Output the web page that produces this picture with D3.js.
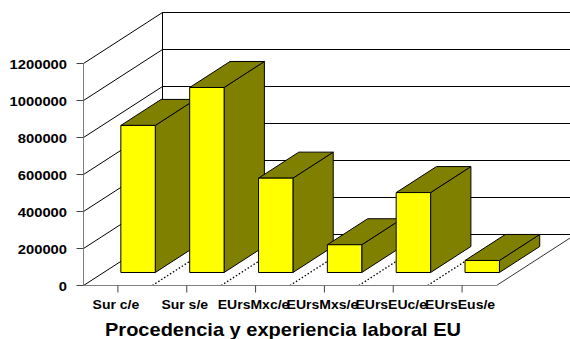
<!DOCTYPE html>
<html>
<head>
<meta charset="utf-8">
<script src="https://cdn.jsdelivr.net/npm/d3@7"></script>
<style>
  body { margin: 0; background: #fff; }
  text { font-family: "Liberation Sans", Arial, sans-serif; font-weight: bold; fill: #000; }
</style>
</head>
<body>
<div id="vis"></div>
<script>
var categories = ["Sur c/e", "Sur s/e", "EUrsMxc/e", "EUrsMxs/e", "EUrsEUc/e", "EUrsEus/e"];
var values = [795000, 1000000, 510000, 150000, 432000, 65000];
var yTicks = [0, 200000, 400000, 600000, 800000, 1000000, 1200000];
var title = "Procedencia y experiencia laboral EU";

var width = 570, height = 339;
var plot = {left: 83.5, right: 496.5, top: 63.5, bottom: 285.5};
var depth = {dx: 79, dy: -51};     // full floor depth in screen px
var barFront = 0.255, barBack = 0.765;

var svg = d3.select("#vis").append("svg")
    .attr("width", width)
    .attr("height", height);

var x = d3.scaleBand()
    .domain(categories)
    .range([plot.left, plot.right]);

var y = d3.scaleLinear()
    .domain([0, 1200000])
    .range([plot.bottom, plot.top]);

// project a point of the front plane back to depth z (0..1)
function p(px, py, z) {
  return [px + z * depth.dx, py + z * depth.dy];
}
function poly(pts) {
  return pts.map(function(d) { return d[0] + "," + d[1]; }).join(" ");
}

////////// walls //////////

var walls = svg.append("g").attr("class", "walls");

// back wall gridlines + left wall diagonals
yTicks.forEach(function(t) {
  var a = p(plot.left, y(t), 0), b = p(plot.left, y(t), 1);
  walls.append("line")
      .attr("x1", a[0]).attr("y1", a[1]).attr("x2", b[0]).attr("y2", b[1])
      .attr("stroke", "#000");
  walls.append("line")
      .attr("x1", b[0]).attr("y1", b[1]).attr("x2", plot.right + depth.dx).attr("y2", b[1])
      .attr("stroke", "#000");
});

var bl = p(plot.left, plot.top, 1), bb = p(plot.left, plot.bottom, 1);
walls.append("line")
    .attr("x1", bl[0]).attr("y1", bl[1]).attr("x2", bb[0]).attr("y2", bb[1])
    .attr("stroke", "#000");

// floor right edge
var fr = p(plot.right, plot.bottom, 1);
walls.append("line")
    .attr("x1", plot.right).attr("y1", plot.bottom).attr("x2", fr[0]).attr("y2", fr[1])
    .attr("stroke", "#333");

// dotted category dividers on the floor
walls.selectAll(".divider")
    .data(categories.slice(1))
    .enter()
    .append("line")
    .attr("class", "divider")
    .attr("x1", function(d) { return x(d); })
    .attr("y1", plot.bottom)
    .attr("x2", function(d) { return p(x(d), plot.bottom, 1)[0]; })
    .attr("y2", function(d) { return p(x(d), plot.bottom, 1)[1]; })
    .attr("stroke", "#000")
    .attr("stroke-width", 1.3)
    .attr("stroke-dasharray", "1.5,2");

////////// axes //////////

var axis = svg.append("g").attr("class", "axes");

axis.append("line")
    .attr("x1", plot.left).attr("y1", plot.top).attr("x2", plot.left).attr("y2", plot.bottom)
    .attr("stroke", "#808080");
axis.append("line")
    .attr("x1", plot.left).attr("y1", plot.bottom).attr("x2", plot.right).attr("y2", plot.bottom)
    .attr("stroke", "#808080");

axis.selectAll(".ytick")
    .data(yTicks)
    .enter()
    .append("line")
    .attr("class", "ytick")
    .attr("x1", plot.left - 7).attr("x2", plot.left)
    .attr("y1", function(d) { return y(d); })
    .attr("y2", function(d) { return y(d); })
    .attr("stroke", "#444");

axis.selectAll(".ylabel")
    .data(yTicks)
    .enter()
    .append("text")
    .attr("class", "ylabel")
    .attr("x", 67)
    .attr("y", function(d) { return y(d) + 5; })
    .attr("text-anchor", "end")
    .attr("font-size", "13.5px")
    .attr("textLength", function(d) { return String(d).length * 8.2; })
    .attr("lengthAdjust", "spacingAndGlyphs")
    .text(function(d) { return String(d); });

axis.selectAll(".xtick")
    .data(categories)
    .enter()
    .append("line")
    .attr("class", "xtick")
    .attr("x1", function(d) { return x(d) + x.bandwidth() / 2; })
    .attr("x2", function(d) { return x(d) + x.bandwidth() / 2; })
    .attr("y1", plot.bottom)
    .attr("y2", plot.bottom + 7)
    .attr("stroke", "#444");

axis.selectAll(".xlabel")
    .data(categories)
    .enter()
    .append("text")
    .attr("class", "xlabel")
    .attr("x", function(d) { return x(d) + x.bandwidth() / 2 - 2; })
    .attr("y", 309)
    .attr("text-anchor", "middle")
    .attr("font-size", "12.5px")
    .each(function(d) {
      var t = d3.select(this).text(d);
      var w = this.getComputedTextLength();
      t.attr("textLength", w * 1.12).attr("lengthAdjust", "spacingAndGlyphs");
    });

////////// bars //////////

var bars = svg.append("g").attr("class", "bars")
    .selectAll(".bar")
    .data(categories)
    .enter()
    .append("g")
    .attr("class", "bar");

bars.each(function(d, i) {
  var g = d3.select(this);
  var x0 = x(d) + x.bandwidth() * 0.25,
      x1 = x(d) + x.bandwidth() * 0.75,
      yv = y(values[i]),
      y0 = y(0);

  g.append("polygon")
      .attr("points", poly([p(x1, yv, barFront), p(x1, yv, barBack), p(x1, y0, barBack), p(x1, y0, barFront)]))
      .attr("fill", "#808000").attr("stroke", "#000").attr("stroke-linejoin", "round");
  g.append("polygon")
      .attr("points", poly([p(x0, yv, barFront), p(x1, yv, barFront), p(x1, yv, barBack), p(x0, yv, barBack)]))
      .attr("fill", "#808000").attr("stroke", "#000").attr("stroke-linejoin", "round");
  g.append("polygon")
      .attr("points", poly([p(x0, yv, barFront), p(x1, yv, barFront), p(x1, y0, barFront), p(x0, y0, barFront)]))
      .attr("fill", "#ffff00").attr("stroke", "#000").attr("stroke-linejoin", "round");
});

////////// title //////////

svg.append("text")
    .attr("x", 283)
    .attr("y", 336)
    .attr("text-anchor", "middle")
    .attr("font-size", "19px")
    .attr("textLength", 356)
    .attr("lengthAdjust", "spacingAndGlyphs")
    .text(title);
</script>
</body>
</html>
